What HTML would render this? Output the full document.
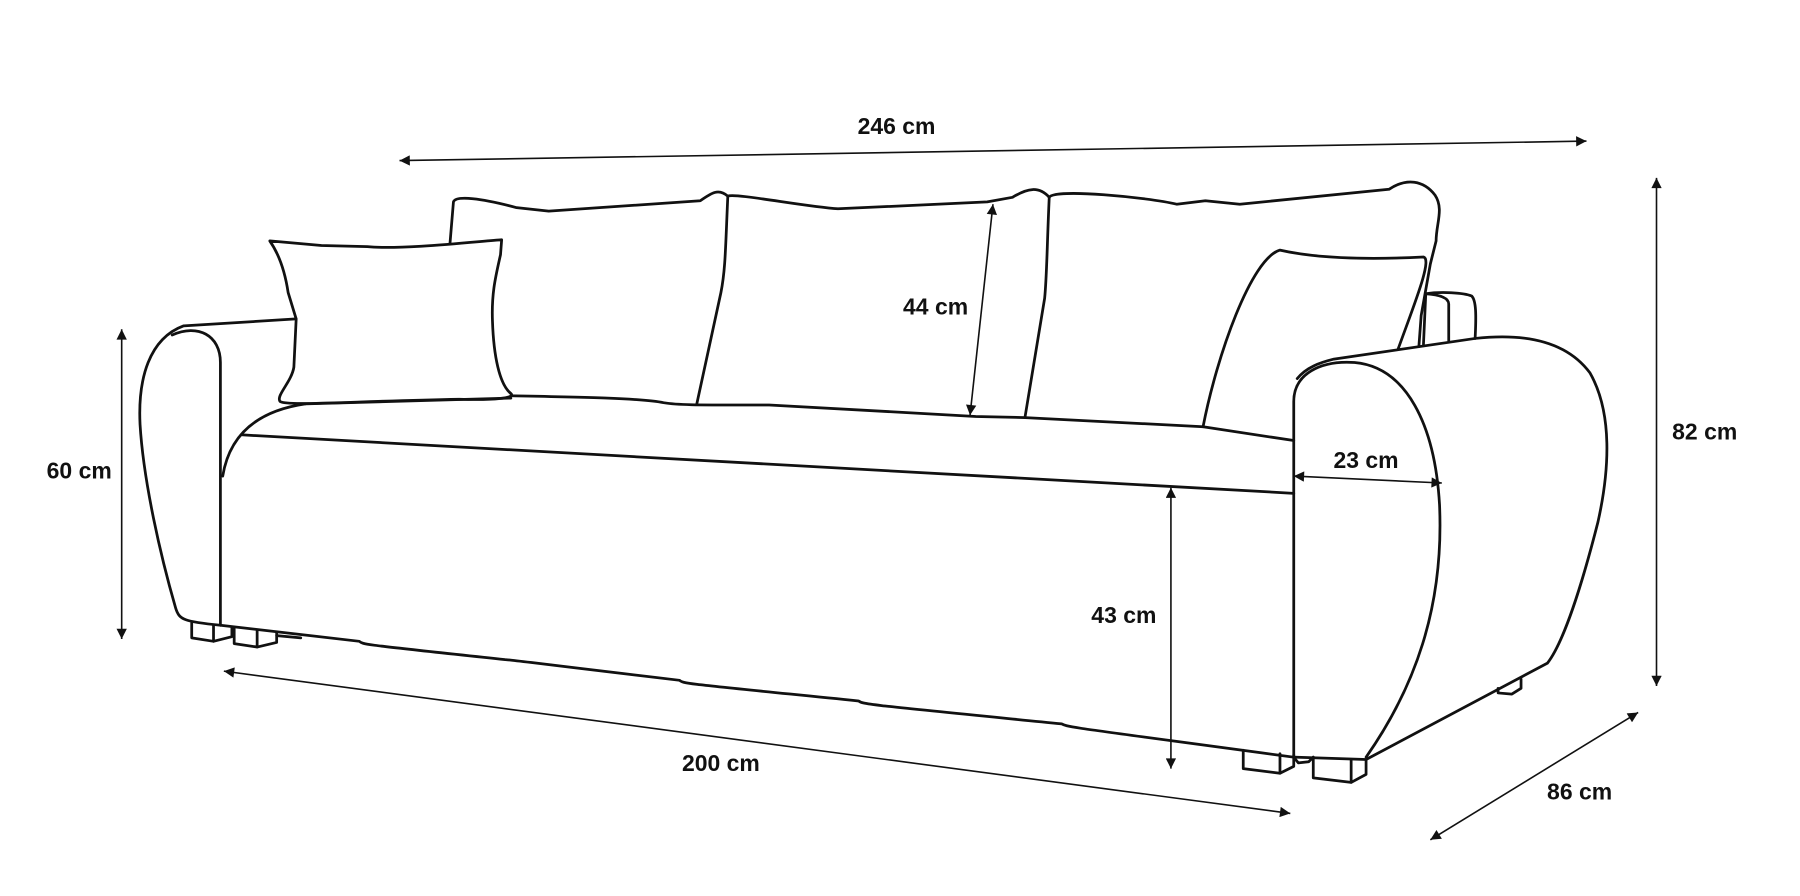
<!DOCTYPE html>
<html><head><meta charset="utf-8"><style>
html,body{margin:0;padding:0;background:#fff;}
svg{display:block;}
text{font-family:"Liberation Sans",Arial,sans-serif;font-weight:bold;font-size:20px;fill:#111;}
</style></head><body>
<svg width="1800" height="896" viewBox="0 0 1568 781" preserveAspectRatio="none" xmlns="http://www.w3.org/2000/svg">
<defs>
<marker id="a" viewBox="0 0 10 10" refX="10" refY="5" markerWidth="12" markerHeight="9" markerUnits="userSpaceOnUse" orient="auto-start-reverse">
<path d="M0,0 L10,5 L0,10 z" fill="#111"/></marker>
</defs>
<g stroke="#111" stroke-width="1.4" fill="none" marker-start="url(#a)" marker-end="url(#a)">
<line x1="348" y1="140" x2="1382" y2="123"/>
<line x1="1443" y1="155" x2="1443" y2="598"/>
<line x1="106" y1="287" x2="106" y2="557"/>
<line x1="865" y1="178" x2="845" y2="362"/>
<line x1="1127" y1="415" x2="1256" y2="421"/>
<line x1="1020" y1="425" x2="1020" y2="670"/>
<line x1="195" y1="585" x2="1124" y2="709"/>
<line x1="1246" y1="732" x2="1427" y2="621"/>
</g>
<g text-anchor="middle">
<text x="781" y="117">246 cm</text>
<text x="1485" y="383">82 cm</text>
<text x="69" y="417">60 cm</text>
<text x="815" y="274">44 cm</text>
<text x="1190" y="408">23 cm</text>
<text x="979" y="543">43 cm</text>
<text x="628" y="672">200 cm</text>
<text x="1376" y="697">86 cm</text>
</g>
<g stroke="#111" stroke-width="2.4" fill="none" stroke-linejoin="round" stroke-linecap="round">
<!-- back cushions -->
<path d="M392,212 L395,176 C397,170 420,173 450,181 L478,184 L610,175 C620,168 626,164 634,171 C632,215 632,235 628,255 L607,352"/>
<path d="M634,171 C640,168 700,180 730,182 L860,176 L882,172 C895,164 905,162 914,172 C912,215 912,240 910,260 L893,363"/>
<path d="M914,172 C918,164 1000,172 1025,178 L1050,175 L1080,178 L1210,165 C1225,155 1240,157 1250,170 C1258,182 1251,195 1251,210 L1246,230 L1238,275 L1236,302"/>
<!-- right arm stub back -->
<path d="M1240,300 L1242,256 C1255,254 1275,255 1282,258 C1286,262 1286,275 1285,295"/>
<path d="M1262,297 L1262,265 C1262,260 1256,257 1242,256"/>
<!-- left throw pillow -->
<path d="M235,210 C242,220 248,235 251,255 L258,278 L256,320 C254,333 240,345 244,350 C250,354 300,350 400,348 C430,349 450,347 445,343 C435,335 430,310 429,280 C428,255 432,240 436,222 L437,209 C420,210 350,218 320,215 L280,214 Z"/>
<!-- right throw pillow -->
<path d="M1048,372 C1060,310 1090,225 1115,218 C1150,226 1200,226 1240,224 C1248,226 1232,265 1218,304"/>
<!-- seat back line -->
<path d="M445,345 C500,346 560,347 578,351 C590,353 600,353 670,353 L850,363 L893,364 L1048,372 L1127,384"/>
<!-- left arm -->
<path d="M258,278 L160,284 C130,295 120,330 122,370 C125,420 140,485 153,530 C156,540 160,542 192,545"/>
<path d="M150,292 C172,282 192,292 192,316 L192,545"/>
<path d="M266,352 C225,358 200,378 194,415"/>
<path d="M266,352 L445,347"/>
<!-- seat front edge -->
<path d="M210,379 L1127,430"/>
<!-- base bottom -->
<path d="M192,545 L313,559 C316,562 320,562 440,575 C445,575 448,576 592,593 C595,596 600,596 748,611 C752,614 755,614 925,631 C930,634 935,634 1127,660"/>
<!-- right arm -->
<path d="M1127,660 L1127,350 C1127,326 1150,314 1180,316 C1225,320 1250,370 1254,440 C1258,530 1232,600 1190,660"/>
<path d="M1130,330 C1138,320 1150,316 1162,313 L1285,295 C1330,290 1365,298 1385,325 C1405,360 1402,410 1392,455 C1378,510 1362,560 1348,578 L1190,662 L1127,660"/>
<!-- legs -->
<path d="M167,543 L167,556 L186,559 L202,555 L202,547"/>
<path d="M186,545 L186,559"/>
<path d="M204,548 L204,561 L224,564 L241,560 L241,551"/>
<path d="M224,550 L224,564"/>
<path d="M241,554 L262,556"/>
<path d="M1083,654 L1083,670 L1115,674 L1127,668 L1127,658"/>
<path d="M1115,657 L1115,674"/>
<path d="M1144,660 L1144,678 L1177,682 L1190,675 L1190,662"/>
<path d="M1177,663 L1177,682"/>
<path d="M1127,660 L1131,665 L1140,664 L1144,660"/>
<path d="M1305,600 L1305,604 L1317,605 L1325,600 L1325,592"/>
</g>
</svg>
</body></html>
